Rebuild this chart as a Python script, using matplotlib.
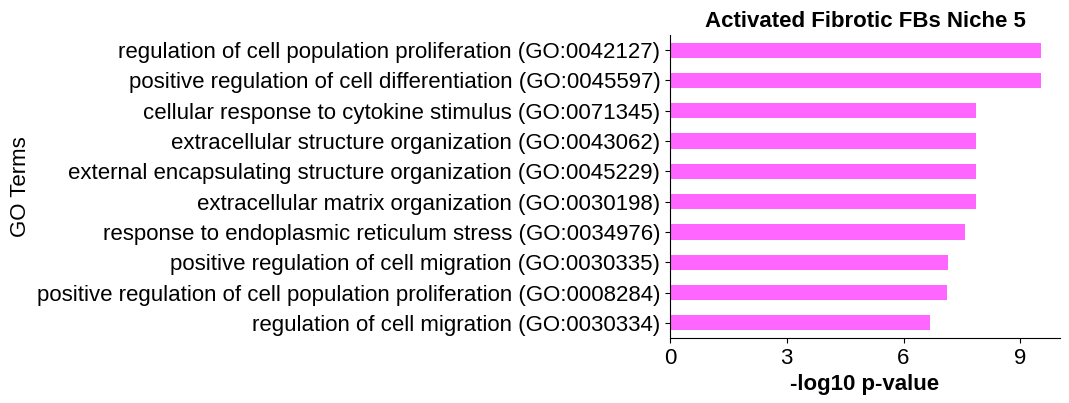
import matplotlib
matplotlib.use("Agg")
import matplotlib.pyplot as plt

plt.rcParams["font.family"] = ["Liberation Sans", "DejaVu Sans"]

# top to bottom as shown
terms = [
    "regulation of cell population proliferation (GO:0042127)",
    "positive regulation of cell differentiation (GO:0045597)",
    "cellular response to cytokine stimulus (GO:0071345)",
    "extracellular structure organization (GO:0043062)",
    "external encapsulating structure organization (GO:0045229)",
    "extracellular matrix organization (GO:0030198)",
    "response to endoplasmic reticulum stress (GO:0034976)",
    "positive regulation of cell migration (GO:0030335)",
    "positive regulation of cell population proliferation (GO:0008284)",
    "regulation of cell migration (GO:0030334)",
]
neg_log10_p = [9.54, 9.54, 7.86, 7.86, 7.86, 7.86, 7.58, 7.14, 7.11, 6.68]

fig = plt.figure(figsize=(10.69, 4.03), dpi=100)
ax = fig.add_axes([670 / 1069, 65 / 403, 390 / 1069, 303 / 403])

ypos = list(range(len(terms)))
ax.barh(ypos, neg_log10_p[::-1], height=0.5, color="#ff66ff")
ax.set_yticks(ypos)
ax.set_yticklabels(terms[::-1], fontsize=16)
ax.set_ylim(-0.5, len(terms) - 0.5)
ax.set_xlim(0, 10.02)
ax.set_xticks([0, 3, 6, 9])
ax.tick_params(axis="x", labelsize=16)

ax.spines["top"].set_visible(False)
ax.spines["right"].set_visible(False)

ax.set_title("Activated Fibrotic FBs Niche 5", fontsize=16, fontweight="bold")
ax.set_xlabel("-log10 p-value", fontsize=16, fontweight="bold")
ax.set_ylabel("GO Terms", fontsize=16)

fig.savefig("out.png", dpi=100)
